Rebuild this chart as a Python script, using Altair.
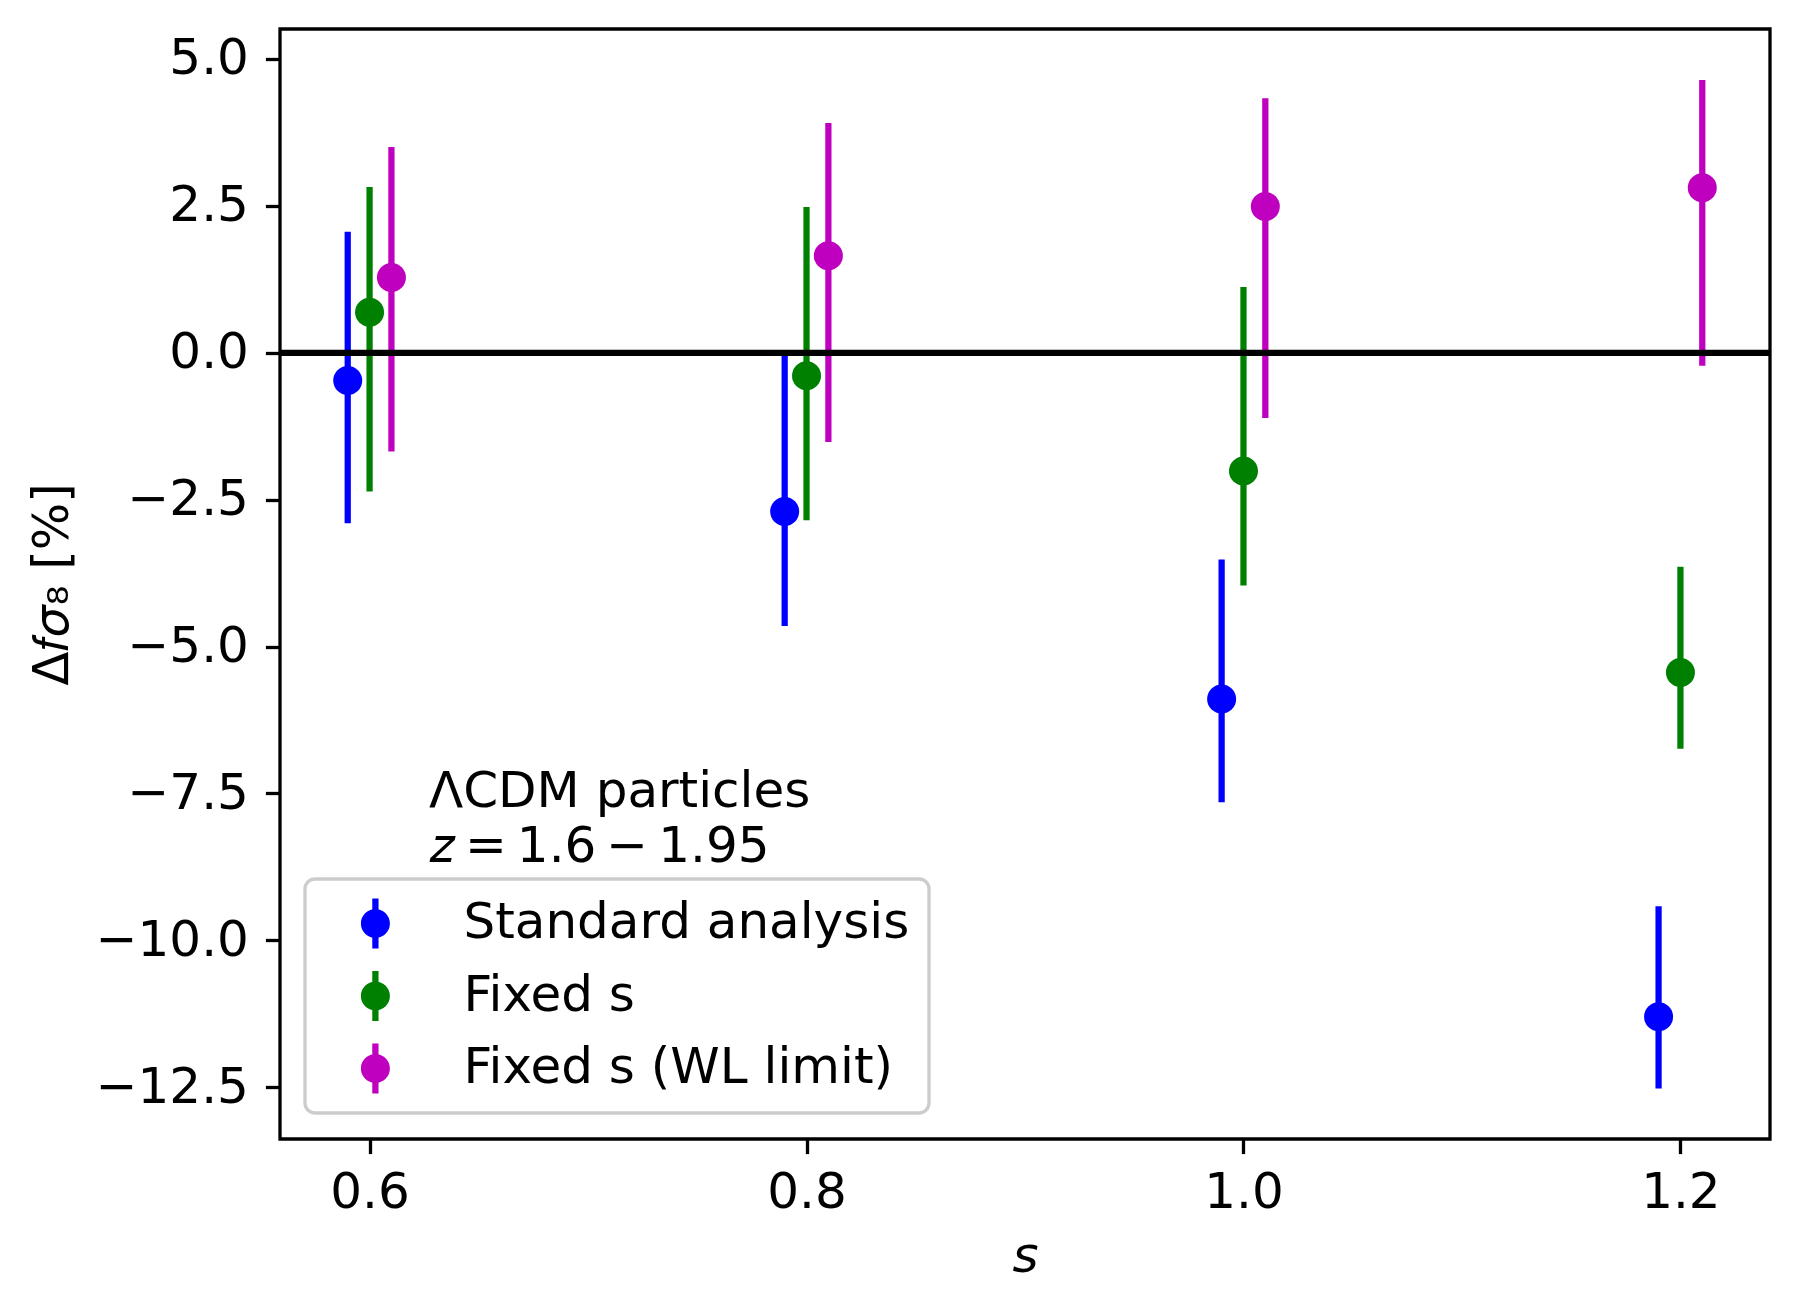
import altair as alt
import pandas as pd

# ---- data ----
LABELS = ["Standard analysis", "Fixed s", "Fixed s (WL limit)"]
COLORS = ["#0000ff", "#008000", "#bf00bf"]

S_STANDARD = [0.59, 0.79, 0.99, 1.19]
V_STANDARD = [-0.47, -2.70, -5.89, -11.30]
LO_STANDARD = [-2.90, -4.65, -7.65, -12.52]
HI_STANDARD = [2.06, 0.00, -3.52, -9.42]

S_FIXED = [0.60, 0.80, 1.00, 1.20]
V_FIXED = [0.69, -0.39, -2.01, -5.44]
LO_FIXED = [-2.36, -2.85, -3.96, -6.74]
HI_FIXED = [2.82, 2.48, 1.12, -3.64]

S_WL = [0.61, 0.81, 1.01, 1.21]
V_WL = [1.28, 1.65, 2.49, 2.81]
LO_WL = [-1.68, -1.52, -1.11, -0.22]
HI_WL = [3.50, 3.91, 4.33, 4.64]

X_TICKS = [0.6, 0.8, 1.0, 1.2]
Y_TICKS = [-12.5, -10.0, -7.5, -5.0, -2.5, 0.0, 2.5, 5.0]
X_DOMAIN = [0.559, 1.241]
Y_DOMAIN = [-13.38, 5.51]

ANNOT_1 = "ΛCDM particles"
ANNOT_2 = "𝑧\u2009=\u20091.6\u2009−\u20091.95"
X_TITLE = "s"
Y_TITLE = "Δ𝑓𝜎₈ [%]"

# ---- build table ----
frames = []
for lab, s, v, lo, hi in [
    (LABELS[0], S_STANDARD, V_STANDARD, LO_STANDARD, HI_STANDARD),
    (LABELS[1], S_FIXED, V_FIXED, LO_FIXED, HI_FIXED),
    (LABELS[2], S_WL, V_WL, LO_WL, HI_WL),
]:
    frames.append(pd.DataFrame({"s": s, "value": v, "lo": lo, "hi": hi, "series": lab}))
df = pd.concat(frames, ignore_index=True)

FONT = "DejaVu Sans"
FS = 50

xscale = alt.Scale(domain=X_DOMAIN, nice=False, zero=False)
yscale = alt.Scale(domain=Y_DOMAIN, nice=False, zero=False)

xaxis = alt.Axis(values=X_TICKS, format=".1f", title=X_TITLE, titleFontStyle="italic",
                 labelPadding=14, titlePadding=14, labelFlush=False)
yaxis = alt.Axis(values=Y_TICKS, title=Y_TITLE, labelPadding=17, titlePadding=18,
                 labelExpr="replace(format(datum.value, '.1f'), '-', '\u2212')",
                 labelLimit=400)

LEG_PATH = ("M-0.58,0A0.58,0.58 0 1,1 0.58,0A0.58,0.58 0 1,1 -0.58,0Z "
            "M-0.125,-1L0.125,-1L0.125,1L-0.125,1Z")

cscale = alt.Scale(domain=LABELS, range=COLORS)

legend = alt.Legend(title=None, orient="none", legendX=25, legendY=850,
                    symbolType=LEG_PATH, symbolSize=2500, symbolStrokeWidth=0,
                    symbolOpacity=1, symbolOffset=26, labelOffset=63,
                    rowPadding=22.5, padding=19.4, labelFontSize=FS, labelFont=FONT,
                    labelColor="black", labelLimit=2000, strokeColor="#cccccc",
                    cornerRadius=10, fillColor="rgba(255,255,255,0.8)")

color = alt.Color("series:N", scale=cscale, legend=legend, sort=LABELS)

base = alt.Chart(df)

bars = base.mark_rule(strokeWidth=6.25).encode(
    x=alt.X("s:Q", scale=xscale, axis=xaxis),
    y=alt.Y("lo:Q", scale=yscale, axis=yaxis),
    y2="hi:Q",
    color=color,
)

points = base.mark_point(filled=True, size=841, opacity=1, shape="circle", strokeWidth=0).encode(
    x=alt.X("s:Q", scale=xscale, axis=xaxis),
    y=alt.Y("value:Q", scale=yscale, axis=yaxis),
    color=color,
)

zero = alt.Chart(pd.DataFrame({"y": [0.0]})).mark_rule(color="black", strokeWidth=6.25).encode(
    y=alt.Y("y:Q", scale=yscale, axis=yaxis)
)

txt1 = alt.Chart(pd.DataFrame({"t": [ANNOT_1]})).mark_text(
    align="left", baseline="alphabetic", font=FONT, fontSize=FS, color="black"
).encode(text="t:N", x=alt.value(149), y=alt.value(778))

txt2 = alt.Chart(pd.DataFrame({"t": [ANNOT_2]})).mark_text(
    align="left", baseline="alphabetic", font=FONT, fontSize=FS, color="black"
).encode(text="t:N", x=alt.value(149), y=alt.value(833))

chart = alt.layer(bars, points, zero, txt1, txt2).properties(
    width=1490, height=1110,
    autosize=alt.AutoSizeParams(type="none"),
    padding={"left": 272, "top": 21, "right": 19, "bottom": 164},
    background="white",
).configure_view(
    stroke="black", strokeWidth=3.3
).configure_axis(
    domain=False, grid=False, ticks=True, tickColor="black", tickWidth=3.3, tickSize=14.6,
    labelFont=FONT, labelFontSize=FS, labelColor="black",
    titleFont=FONT, titleFontSize=FS, titleColor="black", titleFontWeight="normal",
).configure_legend(
    strokeWidth=3.3
)

chart.save("out.html", embed_options={"renderer": "svg", "actions": False})
